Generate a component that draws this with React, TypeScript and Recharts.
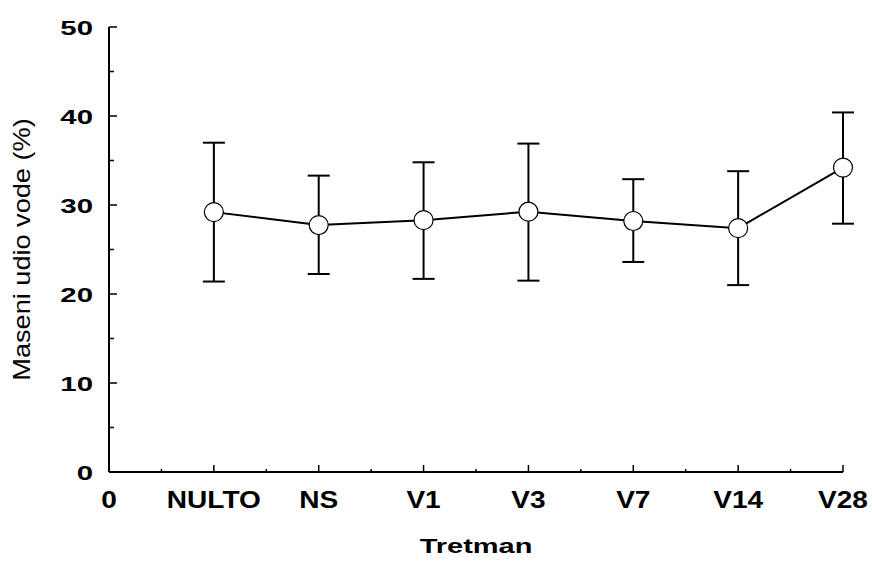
import React from 'react';
import { ComposedChart, Line, XAxis, YAxis, ErrorBar, Label } from 'recharts';

const categories = ['NULTO', 'NS', 'V1', 'V3', 'V7', 'V14', 'V28'];
const means = [29.2, 27.75, 28.3, 29.25, 28.2, 27.4, 34.2];
const lowerBounds = [21.4, 22.25, 21.7, 21.5, 23.6, 21.0, 27.9];
const upperBounds = [37.0, 33.3, 34.8, 36.9, 32.9, 33.8, 40.4];
const xTickLabels = ['0', 'NULTO', 'NS', 'V1', 'V3', 'V7', 'V14', 'V28'];
const xTicks = [0, 0.5, 1, 1.5, 2, 2.5, 3, 3.5, 4, 4.5, 5, 5.5, 6, 6.5, 7];
const yTicks = [0, 5, 10, 15, 20, 25, 30, 35, 40, 45, 50];

const data = categories.map((c, i) => ({
  x: i + 1,
  name: c,
  mean: means[i],
  err: [means[i] - lowerBounds[i], upperBounds[i] - means[i]],
}));

const FONT = '"Liberation Sans", Arial, Helvetica, sans-serif';

const XTick = (props: any) => {
  const { x, y, payload } = props;
  const v = payload.value;
  const major = Math.abs(v - Math.round(v)) < 1e-6;
  return (
    <g>
      <line x1={x} x2={x} y1={y} y2={y - (major ? 7 : 3)} stroke="#000" strokeWidth={1.5} />
      {major && (
        <text
          transform={`translate(${x},${y + 36}) scale(1.22,1)`}
          textAnchor="middle"
          fontFamily={FONT}
          fontWeight="bold"
          fontSize={23}
          fill="#000"
        >
          {xTickLabels[Math.round(v)]}
        </text>
      )}
    </g>
  );
};

const YTick = (props: any) => {
  const { x, y, payload } = props;
  const v = payload.value;
  const major = v % 10 === 0;
  return (
    <g>
      <line x1={x} x2={x + (major ? 8 : 5)} y1={y} y2={y} stroke="#000" strokeWidth={1.5} />
      {major && (
        <text
          transform={`translate(${x - 16},${y + 8}) scale(1.4,1)`}
          textAnchor="end"
          fontFamily={FONT}
          fontWeight="bold"
          fontSize={21}
          fill="#000"
        >
          {String(v)}
        </text>
      )}
    </g>
  );
};

const XLabel = (props: any) => {
  const vb = props.viewBox || {};
  const cx = vb.x + vb.width / 2;
  return (
    <text
      transform={`translate(${cx},${vb.y + 81}) scale(1.38,1)`}
      textAnchor="middle"
      fontFamily={FONT}
      fontWeight="bold"
      fontSize={21}
      fill="#000"
    >
      Tretman
    </text>
  );
};

const YLabel = (props: any) => {
  const vb = props.viewBox || {};
  const cy = vb.y + vb.height / 2;
  return (
    <text
      transform={`translate(${vb.x + 30},${cy}) rotate(-90) scale(1.18,1)`}
      textAnchor="middle"
      fontFamily={FONT}
      fontSize={23}
      fill="#000"
    >
      Maseni udio vode (%)
    </text>
  );
};

export default function App() {
  return (
    <div style={{ position: 'absolute', left: 0, top: 0, width: 872, height: 561, background: '#fff' }}>
      <ComposedChart
        width={872}
        height={561}
        data={data}
        margin={{ top: 27, right: 29, bottom: 0, left: 0 }}
      >
        <XAxis
          dataKey="x"
          type="number"
          domain={[0, 7]}
          ticks={xTicks}
          interval={0}
          allowDecimals
          tick={<XTick />}
          tickLine={false}
          tickSize={0}
          tickMargin={0}
          axisLine={{ stroke: '#000', strokeWidth: 2 }}
          height={89}
        >
          <Label content={<XLabel />} />
        </XAxis>
        <YAxis
          type="number"
          domain={[0, 50]}
          ticks={yTicks}
          interval={0}
          tick={<YTick />}
          tickLine={false}
          tickSize={0}
          tickMargin={0}
          axisLine={{ stroke: '#000', strokeWidth: 2 }}
          width={109}
        >
          <Label content={<YLabel />} />
        </YAxis>
        <Line
          dataKey="mean"
          stroke="#000"
          strokeWidth={2}
          isAnimationActive={false}
          dot={{ r: 9.5, fill: '#fff', stroke: '#000', strokeWidth: 1.2 }}
          activeDot={false}
        >
          <ErrorBar dataKey="err" width={11} stroke="#000" strokeWidth={2} isAnimationActive={false} />
        </Line>
      </ComposedChart>
    </div>
  );
}
